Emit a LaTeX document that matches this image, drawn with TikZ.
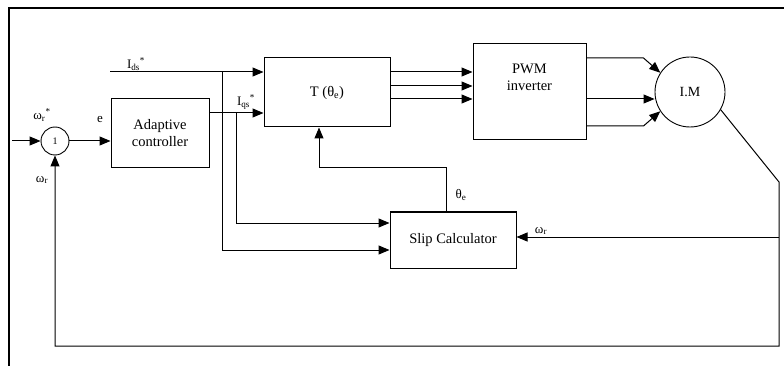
\documentclass[tikz,border=0pt]{standalone}
\usepackage{fontspec}
\setmainfont{Liberation Serif}
\usepackage{tikz}
\usetikzlibrary{positioning,calc,arrows.meta}

\begin{document}
\begin{tikzpicture}[x=1pt, y=-1pt, block/.style={draw, line width=1pt, inner sep=2pt, align=center, font=\fontsize{14.5}{17}\selectfont}, summer/.style={draw, circle, line width=0.9pt, inner sep=0pt, font=\fontsize{10}{11}\selectfont}, sig/.style={inner sep=1pt, font=\fontsize{13}{14}\selectfont}, arrow/.style={-{Triangle[length=11pt,width=9pt]}, line width=1pt}]
\useasboundingbox (0,0) rectangle (784,366);
\draw[line width=2.2pt] (9,366) -- (9,8) -- (784,8);
\node[summer, minimum size=28pt] (sum) at (55,141) {1};
\node[block, minimum width=98pt, minimum height=69pt] (ctrl) at (160,133.5) {Adaptive\\controller};
\node[block, minimum width=126pt, minimum height=69pt] (tblk) at (327,92.5) {T (θ\textsubscript{e})};
\node[block, minimum width=113pt, minimum height=96pt, text depth=30pt] (pwm) at (529.5,92) {PWM\\inverter};
\node[block, minimum width=126pt, minimum height=56pt] (slip) at (453,240) {Slip Calculator};
\node[summer, minimum size=70pt, font=\fontsize{14}{16}\selectfont] (im) at (690,92) {I.M};
\coordinate (in) at (12,141);
\coordinate (ids) at (110,72);
\coordinate (jd) at (222,72);
\coordinate (jq) at (236,113);
\coordinate (rc) at (779,182);
\coordinate (rb) at (779,346);
\coordinate (jw) at (779,237);
\coordinate (th) at (319,168);
\draw[arrow] (in) -- (sum);
\draw[arrow] (sum.east) -- (sum.east -| ctrl.west);
\draw[arrow] (ids) -- (ids -| tblk.west);
\draw[arrow] (ctrl.east |- jq) -- (jq -| tblk.west);
\draw[arrow] (jd) |- ([yshift=-10]slip.west);
\draw[arrow] (jq) |- ([yshift=17]slip.west);
\foreach \dy in {20.5,6.5,-6.5}
  \draw[arrow] ([yshift=\dy]tblk.east) -- ([yshift=\dy]tblk.east -| pwm.west);
\draw[arrow] ([yshift=34]pwm.east) -- ++(57,0) -- (im.147);
\draw[arrow] ([yshift=-7]pwm.east) -- ([yshift=-7]pwm.east -| im.west);
\draw[arrow] ([yshift=-34]pwm.east) -- ++(57,0) -- (im.213);
\draw[arrow] (im.-30) -- (rc) -- (rb) -| (sum.south);
\draw[arrow] (jw) -- (jw -| slip.east);
\draw[arrow] ([xshift=-7]slip.north) |- (th) -- ([xshift=-8]tblk.south);
\node[sig] (lwrs) at (42,115) {ω\textsubscript{r}\textsuperscript{*}};
\node[sig] (lwr) at (42,180) {ω\textsubscript{r}};
\node[sig] (le) at (100,120) {e};
\node[sig] (lids) at (136,64) {I\textsubscript{ds}\textsuperscript{*}};
\node[sig] (liqs) at (246,102) {I\textsubscript{qs}\textsuperscript{*}};
\node[sig] (lth) at (461,195) {θ\textsubscript{e}};
\node[sig] (lwf) at (541,231) {ω\textsubscript{r}};
\end{tikzpicture}
\end{document}
